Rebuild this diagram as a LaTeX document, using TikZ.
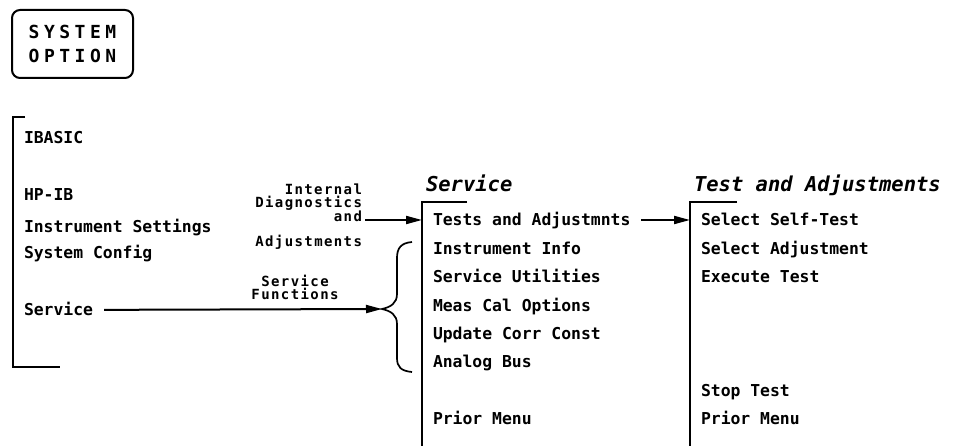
\documentclass[tikz,border=0pt]{standalone}
\usepackage{fontspec}
\usepackage{tikz}
\usetikzlibrary{positioning,arrows.meta}
\newfontfamily\hpfont{DejaVu Sans Mono}[BoldFont={DejaVu Sans Mono Bold}, ItalicFont={DejaVu Sans Mono Oblique}, BoldItalicFont={DejaVu Sans Mono Bold Oblique}]
\newfontfamily\keyfont{DejaVu Sans Mono Bold}[LetterSpace=25]
\newfontfamily\lblfont{DejaVu Sans Mono Bold}[LetterSpace=10]
\newcommand{\itmfont}{\hpfont\bfseries\fontsize{16.4pt}{18pt}\selectfont}
\newcommand{\hdfont}{\hpfont\bfseries\itshape\fontsize{20.5pt}{22pt}\selectfont}
\newcommand{\tightfont}[1]{\lblfont\fontsize{14pt}{#1}\selectfont\lineskiplimit=-50pt}

\begin{document}
\begin{tikzpicture}[x=1pt, y=-1pt, >={Triangle[length=16pt, width=8pt]}, node distance=28.4pt,
  line width=2pt,
  item/.style={anchor=west, inner xsep=10pt, inner ysep=0pt, text height=12pt, text depth=0pt, font=\itmfont},
  head/.style={anchor=west, inner xsep=3pt, inner ysep=0pt, font=\hdfont},
  lbl/.style={inner xsep=2pt, inner ysep=0pt},
  key/.style={draw, rounded corners=8pt, minimum width=121pt, minimum height=68pt, align=center, font=\keyfont\fontsize{18pt}{24pt}\selectfont}]
  \useasboundingbox (0,0) rectangle (954,446);
  \node[key] (sysopt) at (72.5,44) {SYSTEM\\OPTION};
  % system option menu
  \draw (25,117) -- (13,117) -- (13,367) -- (60,367);
  \node[item] (ibasic) at (13,138) {IBASIC};
  \node[item] (hpib) at (13,195) {HP-IB};
  \node[item, below=32pt of hpib.west, anchor=west] (iset) {Instrument Settings};
  \node[item, below=26pt of iset.west, anchor=west] (scfg) {System Config};
  \node[item, below=57pt of scfg.west, anchor=west] (svc) {Service};
  % service menu
  \node[head] (svhd) at (422,183) {Service};
  \draw (467,202) -- (422,202) -- (422,446);
  \node[item] (tsa) at (422,220) {Tests and Adjustmnts};
  \node[item, below=of tsa.west, anchor=west] (iinfo) {Instrument Info};
  \node[item, below=of iinfo.west, anchor=west] (sutil) {Service Utilities};
  \node[item, below=of sutil.west, anchor=west] (mcal) {Meas Cal Options};
  \node[item, below=of mcal.west, anchor=west] (ucc) {Update Corr Const};
  \node[item, below=of ucc.west, anchor=west] (abus) {Analog Bus};
  \node[item, below=56.8pt of abus.west, anchor=west] (pm1) {Prior Menu};
  % test and adjustments menu
  \node[head] (tahd) at (690,185) {Test and Adjustments};
  \draw (737,202) -- (690,202) -- (690,446);
  \node[item] (sst) at (690,220) {Select Self-Test};
  \node[item, below=of sst.west, anchor=west] (sadj) {Select Adjustment};
  \node[item, below=of sadj.west, anchor=west] (xtst) {Execute Test};
  \node[item, below=113.6pt of xtst.west, anchor=west] (stop) {Stop Test};
  \node[item, below=of stop.west, anchor=west] (pm2) {Prior Menu};
  % labels and arrows
  \node[lbl, align=right, anchor=north east, font=\tightfont{12.5pt}] (intl) at (365,183) {Internal\\Diagnostics\\[1.5pt]and\\[12.5pt]Adjustments};
  \node[lbl, align=center, anchor=south, font=\tightfont{13pt}] (sfn) at (295,301) {Service\\Functions};
  \coordinate (brk) at (382,309);
  \draw[line width=1.7pt] (412,242) .. controls (401,243) and (397,248) .. (397,258) -- (397,294) .. controls (397,303) and (391,307) .. (brk) .. controls (391,311) and (397,315) .. (397,324) -- (397,358) .. controls (397,367) and (401,371) .. (412,372);
  \draw[->] (intl.east |- tsa.west) -- (tsa.west);
  \draw[->] (svc) -- (brk);
  \draw[->] (tsa) -- (sst);
\end{tikzpicture}
\end{document}
